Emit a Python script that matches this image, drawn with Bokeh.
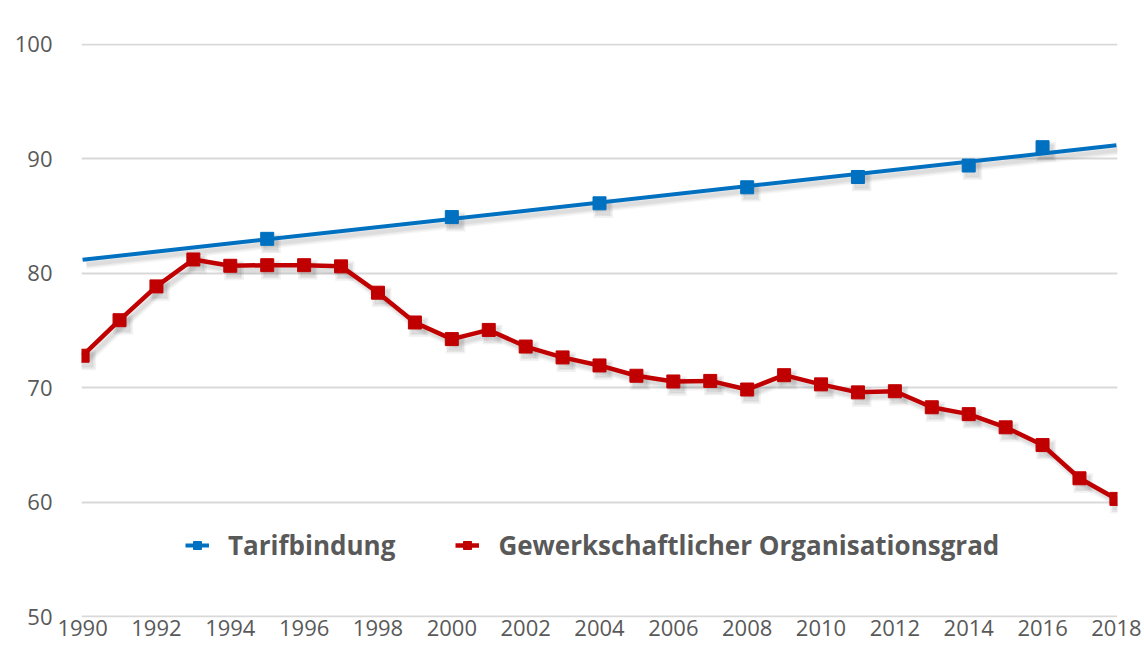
import numpy as np
from bokeh.plotting import figure
from bokeh.models import Range1d, Legend, LegendItem, FixedTicker
from bokeh.embed import file_html
from bokeh.resources import INLINE

# ---- data ----
years = list(range(1990, 2019))
organisationsgrad = [72.8, 75.9, 78.85, 81.2, 80.65, 80.7, 80.7, 80.6, 78.3, 75.7,
                     74.25, 75.05, 73.6, 72.65, 71.95, 71.05, 70.55, 70.6, 69.85, 71.1,
                     70.3, 69.6, 69.7, 68.3, 67.7, 66.55, 65.0, 62.1, 60.3]
tarif_years = [1995, 2000, 2004, 2008, 2011, 2014, 2016]
tarifbindung = [83.0, 84.9, 86.1, 87.5, 88.4, 89.4, 91.0]
x_ticks = list(range(1990, 2019, 2))
y_ticks = [50, 60, 70, 80, 90, 100]

BLUE = "#0070C0"
RED = "#C00000"
TEXT = "#595959"
GRID = "#D9D9D9"
FONT = "Open Sans"

# linear trend of Tarifbindung over the full period
coef = np.polyfit(tarif_years, tarifbindung, 1)
trend_x = [years[0], years[-1]]
trend_y = list(np.polyval(coef, trend_x))

p = figure(width=1144, height=648, output_backend="svg", toolbar_location=None,
           x_range=Range1d(1989.97, 2018.03), y_range=Range1d(49.95, 100.05),
           min_border_left=81, min_border_right=27, min_border_top=43, min_border_bottom=31)
p.outline_line_color = None
p.background_fill_color = "white"
p.border_fill_color = "white"

# soft drop shadows (style only)
sx, sy = 0.1, 0.4
for w, a in ((10, 0.035), (7, 0.05), (4, 0.05)):
    p.line([x + sx for x in trend_x], [y - sy for y in trend_y], line_width=w, color="black", alpha=a)
    p.line([x + sx for x in years], [y - sy for y in organisationsgrad], line_width=w, color="black",
           alpha=a, line_join="round")
    p.scatter([x + sx for x in years], [y - sy for y in organisationsgrad], marker="square", size=w + 9,
              color="black", alpha=a)
    p.scatter([x + sx for x in tarif_years], [y - sy for y in tarifbindung], marker="square", size=w + 9,
              color="black", alpha=a)

trend_r = p.line(trend_x, trend_y, line_width=4, color=BLUE)
blue_r = p.scatter(tarif_years, tarifbindung, marker="square", size=13, color=BLUE)
red_line = p.line(years, organisationsgrad, line_width=4.5, color=RED, line_join="round")
red_pts = p.scatter(years, organisationsgrad, marker="square", size=13, color=RED)

# axes
p.xaxis.ticker = FixedTicker(ticks=x_ticks)
p.yaxis.ticker = FixedTicker(ticks=y_ticks)
for ax in (p.xaxis[0], p.yaxis[0]):
    ax.axis_line_color = None
    ax.major_tick_line_color = None
    ax.minor_tick_line_color = None
    ax.major_tick_out = 0
    ax.major_label_text_font = FONT
    ax.major_label_text_font_size = "22px"
    ax.major_label_text_color = TEXT
p.yaxis.major_label_standoff = 29
p.xaxis.major_label_standoff = 2

p.xgrid.grid_line_color = None
p.ygrid.grid_line_color = GRID
p.ygrid.grid_line_width = 2

legend = Legend(items=[
    LegendItem(label="Tarifbindung", renderers=[trend_r, blue_r]),
    LegendItem(label="Gewerkschaftlicher Organisationsgrad", renderers=[red_line, red_pts]),
], orientation="horizontal", location=(104, 54))
legend.label_text_font = FONT
legend.label_text_font_style = "bold"
legend.label_text_font_size = "26px"
legend.label_text_color = TEXT
legend.glyph_width = 24
legend.glyph_height = 20
legend.label_standoff = 19
legend.spacing = 60
legend.padding = 0
legend.margin = 0
legend.border_line_color = None
legend.background_fill_alpha = 0
p.add_layout(legend)

open("out.html", "w").write(file_html(p, INLINE))
